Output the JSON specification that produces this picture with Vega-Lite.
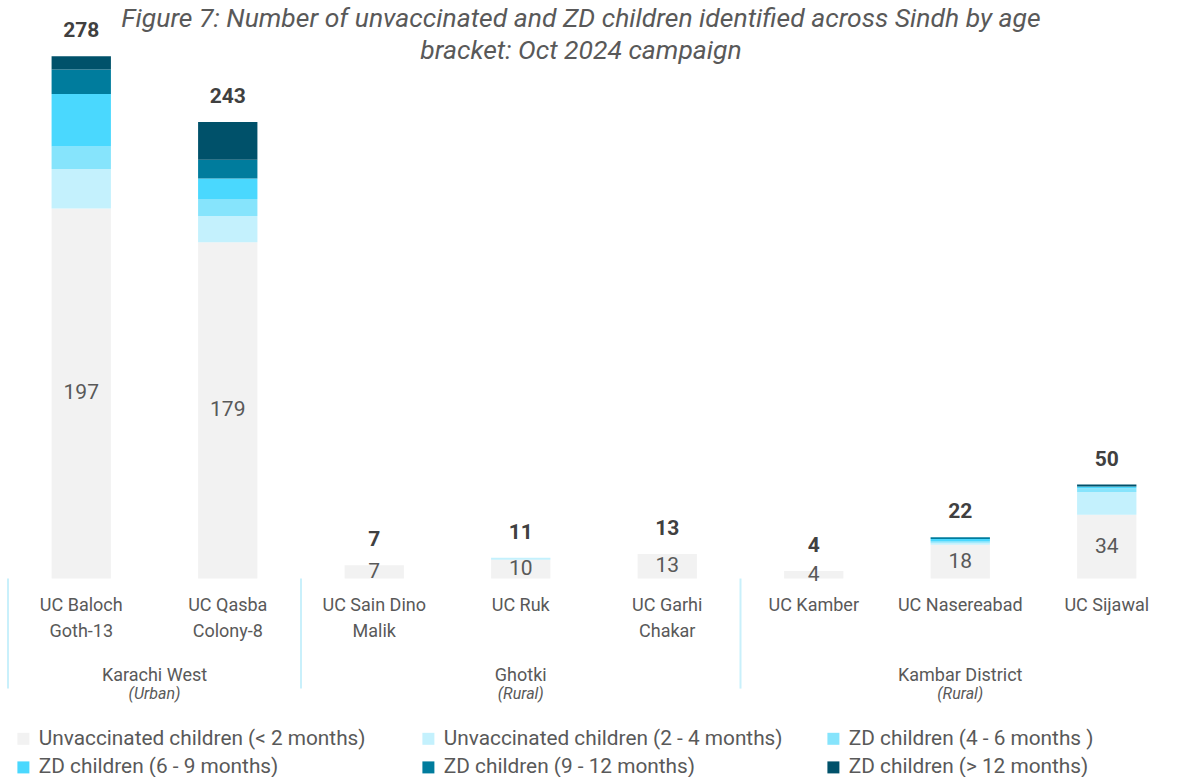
{
  "$schema": "https://vega.github.io/schema/vega-lite/v6.json",
  "autosize": {"type": "none"},
  "padding": {"left": 8, "top": 15, "right": 0, "bottom": 67},
  "width": 1172,
  "height": 695,
  "title": {
    "text": ["Figure 7: Number of unvaccinated and ZD children identified across Sindh by age", "bracket: Oct 2024 campaign"],
    "font": "Roboto", "fontSize": 26.5, "fontStyle": "italic", "fontWeight": "normal", "color": "#595959",
    "anchor": "middle", "offset": -49, "lineHeight": 32, "dx": -13
  },
  "config": {
    "view": {"stroke": null},
    "font": "Roboto",
    "legend": {
      "orient": "bottom", "columns": 3, "title": null, "symbolType": "square", "symbolSize": 144,
      "symbolStrokeWidth": 0, "labelFontSize": 20.8, "labelColor": "#595959", "labelFont": "Roboto",
      "gridAlign": "all", "columnPadding": 40, "rowPadding": 7, "labelOffset": 5, "labelLimit": 400,
      "offset": 13, "padding": 5
    }
  },
  "datasets": {
    "segs": [
      {"uc": "UC Baloch Goth-13", "k": 1, "cat": "Unvaccinated children (< 2 months)", "value": 197},
      {"uc": "UC Baloch Goth-13", "k": 2, "cat": "Unvaccinated children (2 - 4 months)", "value": 21},
      {"uc": "UC Baloch Goth-13", "k": 3, "cat": "ZD children (4 - 6 months )", "value": 12},
      {"uc": "UC Baloch Goth-13", "k": 4, "cat": "ZD children (6 - 9 months)", "value": 28},
      {"uc": "UC Baloch Goth-13", "k": 5, "cat": "ZD children (9  - 12 months)", "value": 13},
      {"uc": "UC Baloch Goth-13", "k": 6, "cat": "ZD children (> 12  months)", "value": 7},
      {"uc": "UC Qasba Colony-8", "k": 1, "cat": "Unvaccinated children (< 2 months)", "value": 179},
      {"uc": "UC Qasba Colony-8", "k": 2, "cat": "Unvaccinated children (2 - 4 months)", "value": 14},
      {"uc": "UC Qasba Colony-8", "k": 3, "cat": "ZD children (4 - 6 months )", "value": 9},
      {"uc": "UC Qasba Colony-8", "k": 4, "cat": "ZD children (6 - 9 months)", "value": 11},
      {"uc": "UC Qasba Colony-8", "k": 5, "cat": "ZD children (9  - 12 months)", "value": 10},
      {"uc": "UC Qasba Colony-8", "k": 6, "cat": "ZD children (> 12  months)", "value": 20},
      {"uc": "UC Sain Dino Malik", "k": 1, "cat": "Unvaccinated children (< 2 months)", "value": 7},
      {"uc": "UC Ruk", "k": 1, "cat": "Unvaccinated children (< 2 months)", "value": 10},
      {"uc": "UC Ruk", "k": 2, "cat": "Unvaccinated children (2 - 4 months)", "value": 1},
      {"uc": "UC Garhi Chakar", "k": 1, "cat": "Unvaccinated children (< 2 months)", "value": 13},
      {"uc": "UC Kamber", "k": 1, "cat": "Unvaccinated children (< 2 months)", "value": 4},
      {"uc": "UC Nasereabad", "k": 1, "cat": "Unvaccinated children (< 2 months)", "value": 18},
      {"uc": "UC Nasereabad", "k": 2, "cat": "Unvaccinated children (2 - 4 months)", "value": 1},
      {"uc": "UC Nasereabad", "k": 3, "cat": "ZD children (4 - 6 months )", "value": 1},
      {"uc": "UC Nasereabad", "k": 4, "cat": "ZD children (6 - 9 months)", "value": 1},
      {"uc": "UC Nasereabad", "k": 5, "cat": "ZD children (9  - 12 months)", "value": 1},
      {"uc": "UC Sijawal", "k": 1, "cat": "Unvaccinated children (< 2 months)", "value": 34},
      {"uc": "UC Sijawal", "k": 2, "cat": "Unvaccinated children (2 - 4 months)", "value": 12},
      {"uc": "UC Sijawal", "k": 3, "cat": "ZD children (4 - 6 months )", "value": 2},
      {"uc": "UC Sijawal", "k": 4, "cat": "ZD children (6 - 9 months)", "value": 1},
      {"uc": "UC Sijawal", "k": 6, "cat": "ZD children (> 12  months)", "value": 1}
    ],
    "ucs": [
      {"uc": "UC Baloch Goth-13", "label": "UC Baloch\nGoth-13", "first": true},
      {"uc": "UC Qasba Colony-8", "label": "UC Qasba\nColony-8", "first": false},
      {"uc": "UC Sain Dino Malik", "label": "UC Sain Dino\nMalik", "first": true},
      {"uc": "UC Ruk", "label": "UC Ruk", "first": false},
      {"uc": "UC Garhi Chakar", "label": "UC Garhi\nChakar", "first": false},
      {"uc": "UC Kamber", "label": "UC Kamber", "first": true},
      {"uc": "UC Nasereabad", "label": "UC Nasereabad", "first": false},
      {"uc": "UC Sijawal", "label": "UC Sijawal", "first": false}
    ],
    "groups": [
      {"g": "Karachi West", "sub": "(Urban)", "anchor": "UC Qasba Colony-8", "edge": true},
      {"g": "Ghotki", "sub": "(Rural)", "anchor": "UC Ruk", "edge": false},
      {"g": "Kambar District", "sub": "(Rural)", "anchor": "UC Nasereabad", "edge": false}
    ]
  },
  "encoding": {
    "x": {
      "field": "uc", "type": "nominal", "axis": null,
      "scale": {
        "domain": ["UC Baloch Goth-13", "UC Qasba Colony-8", "UC Sain Dino Malik", "UC Ruk", "UC Garhi Chakar", "UC Kamber", "UC Nasereabad", "UC Sijawal"],
        "paddingInner": 0, "paddingOuter": 0
      }
    }
  },
  "layer": [
    {
      "data": {"name": "segs"},
      "mark": {"type": "bar", "width": {"band": 0.405}},
      "encoding": {
        "y": {"field": "value", "type": "quantitative", "stack": "zero", "axis": null,
              "scale": {"domain": [-70, 300], "nice": false, "zero": false}},
        "color": {
          "field": "cat", "type": "nominal",
          "sort": ["Unvaccinated children (< 2 months)", "Unvaccinated children (2 - 4 months)", "ZD children (4 - 6 months )", "ZD children (6 - 9 months)", "ZD children (9  - 12 months)", "ZD children (> 12  months)"],
          "scale": {
            "domain": ["Unvaccinated children (< 2 months)", "Unvaccinated children (2 - 4 months)", "ZD children (4 - 6 months )", "ZD children (6 - 9 months)", "ZD children (9  - 12 months)", "ZD children (> 12  months)"],
            "range": ["#F2F2F2", "#C4F1FD", "#86E4FC", "#4AD8FE", "#007C9D", "#00516A"]
          }
        },
        "order": {"field": "k", "type": "quantitative", "sort": "ascending"}
      }
    },
    {
      "data": {"name": "segs"},
      "transform": [
        {"filter": "datum.k === 1"},
        {"calculate": "datum.value / 2", "as": "mid"}
      ],
      "mark": {"type": "text", "fontSize": 21, "color": "#595959", "baseline": "middle"},
      "encoding": {
        "y": {"field": "mid", "type": "quantitative"},
        "text": {"field": "value", "type": "quantitative"}
      }
    },
    {
      "data": {"name": "segs"},
      "transform": [{"aggregate": [{"op": "sum", "field": "value", "as": "total"}], "groupby": ["uc"]}],
      "mark": {"type": "text", "fontSize": 21, "fontWeight": "bold", "color": "#404040", "baseline": "bottom", "dy": -15},
      "encoding": {
        "y": {"field": "total", "type": "quantitative"},
        "text": {"field": "total", "type": "quantitative"}
      }
    },
    {
      "data": {"values": [{}]},
      "mark": {"type": "rule", "color": "#C9F0FB", "strokeWidth": 2},
      "encoding": {"y": {"datum": 0}}
    },
    {
      "data": {"name": "ucs"},
      "transform": [{"filter": "datum.first"}],
      "mark": {"type": "rule", "color": "#C9F0FB", "strokeWidth": 2},
      "encoding": {
        "x": {"field": "uc", "type": "nominal", "bandPosition": 0},
        "y": {"datum": 0},
        "y2": {"datum": -58.6}
      }
    },
    {
      "data": {"name": "ucs"},
      "mark": {"type": "text", "fontSize": 18, "color": "#595959", "baseline": "top", "lineBreak": "\n", "lineHeight": 26},
      "encoding": {
        "y": {"datum": -9.6},
        "text": {"field": "label"}
      }
    },
    {
      "data": {"name": "groups"},
      "transform": [{"filter": "datum.edge"}],
      "layer": [
        {
          "mark": {"type": "text", "fontSize": 18, "color": "#595959", "baseline": "middle"},
          "encoding": {"x": {"field": "anchor", "type": "nominal", "bandPosition": 0}, "y": {"datum": -51.7}, "text": {"field": "g"}}
        },
        {
          "mark": {"type": "text", "fontSize": 16, "fontStyle": "italic", "color": "#595959", "baseline": "middle"},
          "encoding": {"x": {"field": "anchor", "type": "nominal", "bandPosition": 0}, "y": {"datum": -61.3}, "text": {"field": "sub"}}
        }
      ]
    },
    {
      "data": {"name": "groups"},
      "transform": [{"filter": "!datum.edge"}],
      "layer": [
        {
          "mark": {"type": "text", "fontSize": 18, "color": "#595959", "baseline": "middle"},
          "encoding": {"x": {"field": "anchor", "type": "nominal"}, "y": {"datum": -51.7}, "text": {"field": "g"}}
        },
        {
          "mark": {"type": "text", "fontSize": 16, "fontStyle": "italic", "color": "#595959", "baseline": "middle"},
          "encoding": {"x": {"field": "anchor", "type": "nominal"}, "y": {"datum": -61.3}, "text": {"field": "sub"}}
        }
      ]
    }
  ]
}
